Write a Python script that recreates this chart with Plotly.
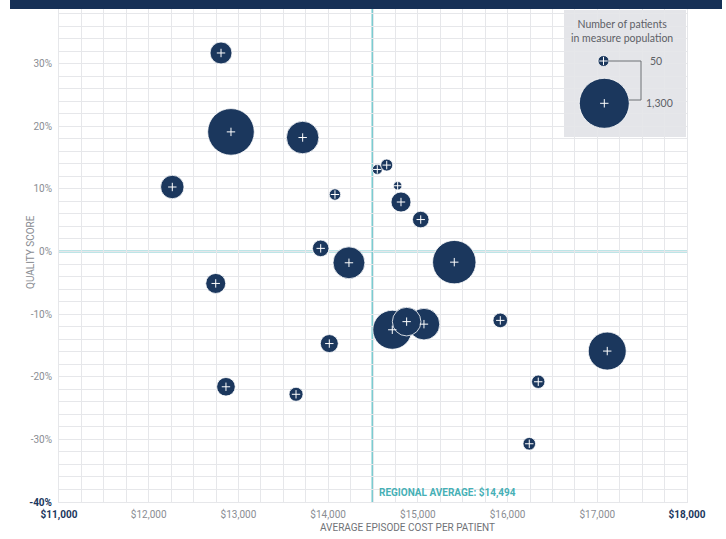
import plotly.graph_objects as go

# ---- data ----
cost = [12806, 12917, 13716, 12263, 14076, 14548, 14653, 14775, 14812, 15032,
        13917, 14232, 15406, 12747, 14715, 15068, 14875, 15919, 14013, 17111,
        16342, 12861, 13642, 16242]
quality = [31.7, 19.1, 18.2, 10.3, 9.1, 13.1, 13.8, 10.5, 7.9, 5.1,
           0.5, -1.8, -1.7, -5.1, -12.5, -11.6, -11.2, -11.0, -14.7, -15.9,
           -20.8, -21.6, -22.8, -30.7]
patients = [250, 1130, 550, 285, 68, 52, 75, 38, 208, 143,
            143, 530, 980, 208, 790, 520, 425, 111, 168, 750,
            93, 180, 102, 83]

regional_average = 14494
legend_sizes = [50, 1300]
legend_labels = ["50", "1,300"]

x_ticks = [11000, 12000, 13000, 14000, 15000, 16000, 17000, 18000]
y_ticks = [-40, -30, -20, -10, 0, 10, 20, 30]

# ---- style ----
NAVY = "#1b375d"
TEAL = "#7ccbd0"
TEAL_TXT = "#46b0b6"
GRID = "#e6e7ea"
TXT = "#8a8d93"
FONT = "Liberation Sans Narrow, Arial Narrow, Roboto, sans-serif"

W, H = 726, 539
ML, MR, MT, MB = 59, 39, 1, 37
PW, PH = W - ML - MR, H - MT - MB


def px(xp):
    return (xp - ML) / PW


def py(yp):
    return (H - MB - yp) / PH


def money(v):
    return "${:,.0f}".format(v)


def xlabel(v):
    if v in (x_ticks[0], x_ticks[-1]):
        return "<b><span style='color:%s'>%s</span></b>" % (NAVY, money(v))
    return money(v)


def ylabel(v):
    s = "%d%%" % v
    if v == y_ticks[0]:
        return "<b><span style='color:%s'>%s</span></b>" % (NAVY, s)
    return s


sizeref = 2.0 * max(legend_sizes) / (50 ** 2)

fig = go.Figure()

fig.add_trace(go.Scatter(
    x=cost, y=quality, mode="markers",
    marker=dict(size=patients, sizemode="area", sizeref=sizeref, sizemin=4, color=NAVY,
                opacity=1, line=dict(color="white", width=0.8)),
    hoverinfo="skip", showlegend=False))
fig.add_trace(go.Scatter(
    x=cost, y=quality, mode="markers",
    marker=dict(symbol="cross-thin", size=6, opacity=1, line=dict(color="white", width=1)),
    hoverinfo="skip", showlegend=False))

# legend bubbles on an overlay axis (0..1 = paper)
leg_x = [px(603.5), px(604.3)]
leg_y = [py(61), py(103.3)]
fig.add_trace(go.Scatter(
    x=leg_x, y=leg_y, xaxis="x2", yaxis="y2", mode="markers",
    marker=dict(size=legend_sizes, sizemode="area", sizeref=sizeref, sizemin=5.5, color=NAVY,
                opacity=1, line=dict(color="white", width=0.8)),
    hoverinfo="skip", showlegend=False))
fig.add_trace(go.Scatter(
    x=leg_x, y=leg_y, xaxis="x2", yaxis="y2", mode="markers",
    marker=dict(symbol="cross-thin", size=6, opacity=1, line=dict(color="white", width=1)),
    hoverinfo="skip", showlegend=False))

shapes = [
    # header band
    dict(type="rect", xref="paper", yref="paper", x0=px(10), x1=px(722), y0=py(9), y1=py(-2),
         fillcolor="#163056", line=dict(width=0), layer="above"),
    # legend box
    dict(type="rect", xref="paper", yref="paper", x0=px(564), x1=px(686), y0=py(137), y1=py(10),
         fillcolor="#e4e5e9", line=dict(width=0), layer="below"),
    # teal reference lines
    dict(type="line", xref="x", yref="paper", x0=regional_average, x1=regional_average, y0=0, y1=1,
         line=dict(color=TEAL, width=2), layer="below"),
    dict(type="line", xref="paper", yref="y", x0=0, x1=1, y0=0, y1=0,
         line=dict(color=TEAL, width=2), layer="below"),
    # legend connector
    dict(type="line", xref="paper", yref="paper", x0=px(609), x1=px(641), y0=py(61), y1=py(61),
         line=dict(color="#6d7075", width=1), layer="above"),
    dict(type="line", xref="paper", yref="paper", x0=px(641), x1=px(641), y0=py(61), y1=py(100),
         line=dict(color="#6d7075", width=1), layer="above"),
    dict(type="line", xref="paper", yref="paper", x0=px(629), x1=px(641), y0=py(100), y1=py(100),
         line=dict(color="#6d7075", width=1), layer="above"),
]

annotations = [
    dict(text="Number of patients<br>in measure population", xref="paper", yref="paper",
         x=px(622), y=py(31), xanchor="center", yanchor="middle", showarrow=False,
         font=dict(family="Lato, Open Sans, sans-serif", size=10.5, color="#5d6066"),
         align="center"),
    dict(text=legend_labels[0], xref="paper", yref="paper", x=px(648), y=py(61),
         xanchor="left", yanchor="middle", showarrow=False,
         font=dict(family="Lato, sans-serif", size=10.5, color="#5d6066")),
    dict(text=legend_labels[1], xref="paper", yref="paper", x=px(644), y=py(103),
         xanchor="left", yanchor="middle", showarrow=False,
         font=dict(family="Lato, sans-serif", size=10.5, color="#5d6066")),
    dict(text="<b>REGIONAL AVERAGE: %s</b>" % money(regional_average), xref="x", yref="paper",
         x=regional_average, y=py(492), xanchor="left", yanchor="middle", xshift=5,
         showarrow=False, font=dict(family=FONT, size=10, color=TEAL_TXT)),
    dict(text="AVERAGE EPISODE COST PER PATIENT", xref="paper", yref="paper",
         x=px(407), y=py(527), xanchor="center", yanchor="middle", showarrow=False,
         font=dict(family=FONT, size=10, color="#6f7277")),
    dict(text="QUALITY SCORE", xref="paper", yref="paper", textangle=-90,
         x=px(30), y=py(252), xanchor="center", yanchor="middle", showarrow=False,
         font=dict(family=FONT, size=10, color="#8a8d93")),
]

fig.update_layout(
    width=W, height=H, autosize=False,
    margin=dict(l=ML, r=MR, t=MT, b=MB, pad=0),
    paper_bgcolor="white", plot_bgcolor="white",
    font=dict(family=FONT, size=10, color=TXT),
    showlegend=False,
    shapes=shapes, annotations=annotations,
    xaxis=dict(range=[x_ticks[0], x_ticks[-1]], tickmode="array", tickvals=x_ticks,
               ticktext=[xlabel(v) for v in x_ticks], showgrid=True, gridcolor=GRID,
               gridwidth=1, zeroline=False, showline=True, linecolor=GRID, mirror=True,
               ticks="", ticklabelstandoff=3, tickfont=dict(size=10, color=TXT),
               minor=dict(dtick=250, tick0=11000, showgrid=True, gridcolor=GRID, gridwidth=1)),
    yaxis=dict(range=[y_ticks[0], 40], tickmode="array", tickvals=y_ticks,
               ticktext=[ylabel(v) for v in y_ticks], showgrid=True, gridcolor=GRID,
               gridwidth=1, zeroline=False, showline=True, linecolor=GRID, mirror=True,
               ticks="", ticklabelstandoff=4, tickfont=dict(size=10, color=TXT),
               minor=dict(dtick=2, tick0=0, showgrid=True, gridcolor=GRID, gridwidth=1)),
    xaxis2=dict(range=[0, 1], overlaying="x", visible=False),
    yaxis2=dict(range=[0, 1], overlaying="y", visible=False),
)

fig.write_html(
    "out.html",
    config={"displayModeBar": False},
    post_script="document.body.style.margin='0';document.body.style.overflow='hidden';",
)
